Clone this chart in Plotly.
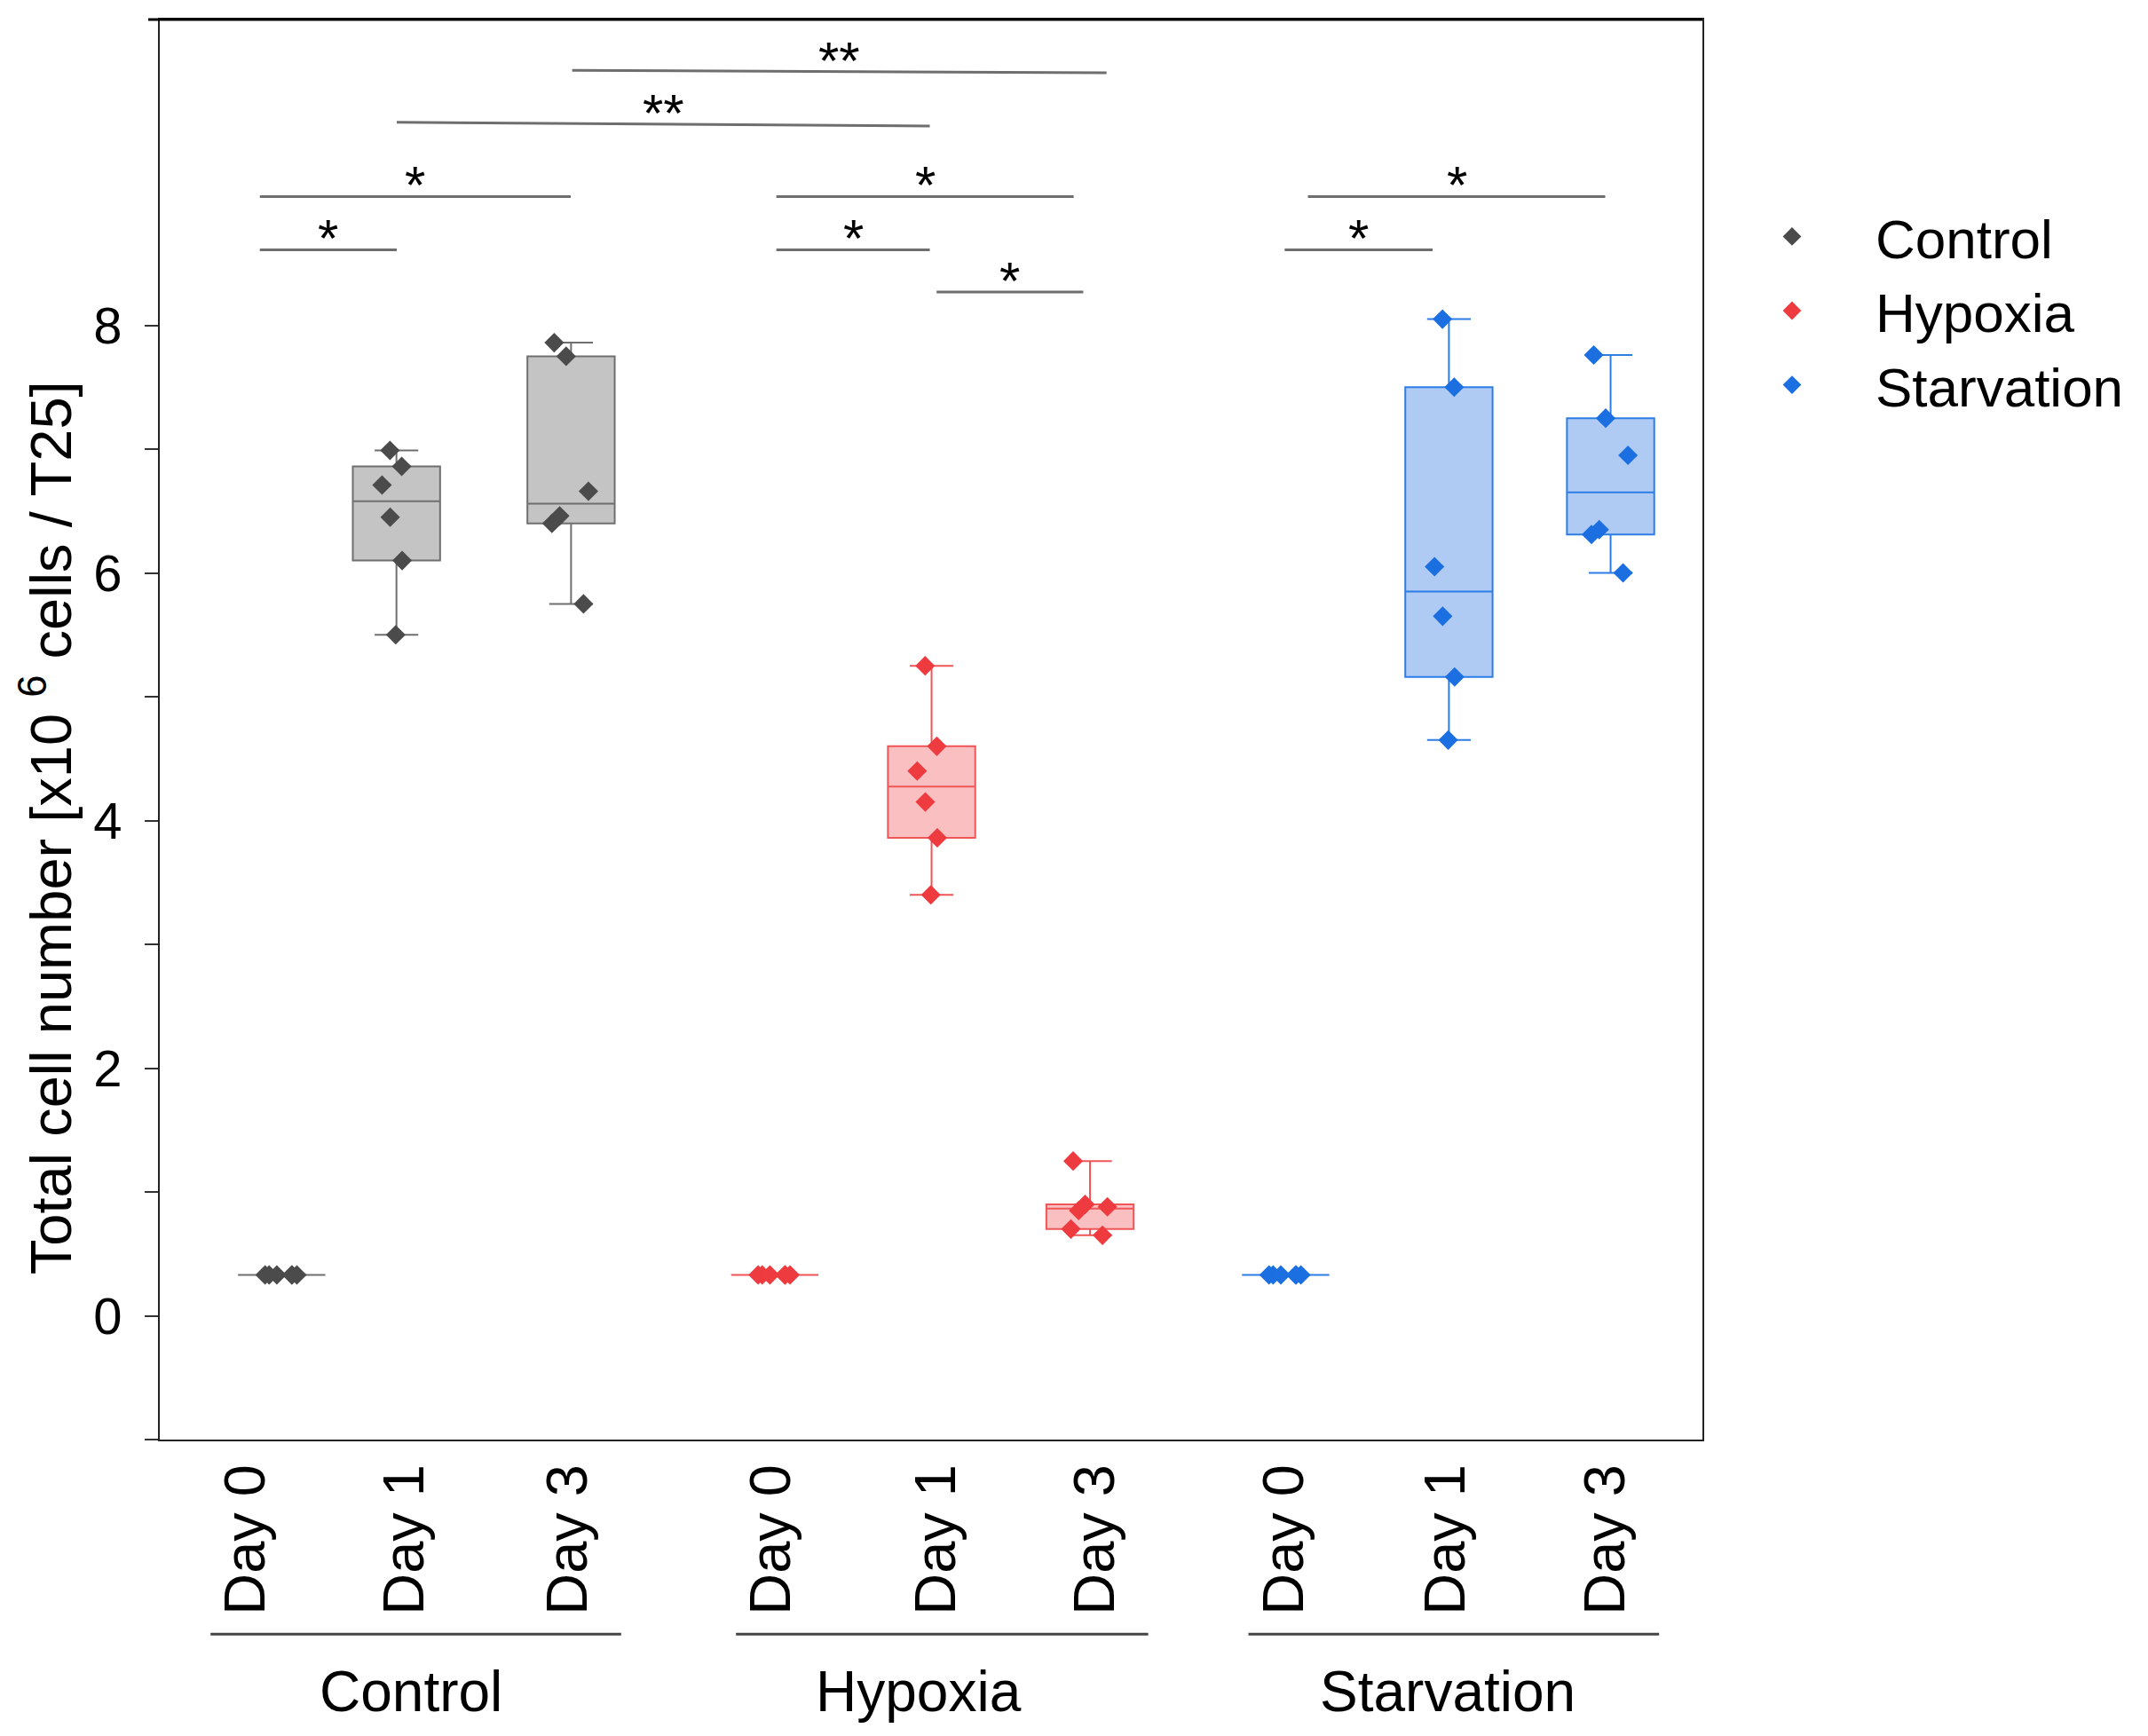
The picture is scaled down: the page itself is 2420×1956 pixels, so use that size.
import plotly.graph_objects as go

# categories
groups = ["Control", "Hypoxia", "Starvation"]
days = ["Day 0", "Day 1", "Day 3"]

# total cell number [x10^6 cells / T25], 6 replicates per box
control_d0 = [0.33, 0.33, 0.33, 0.33, 0.33, 0.33]
control_d1 = [5.50, 6.10, 6.45, 6.71, 6.86, 6.99]
control_d3 = [5.75, 6.40, 6.46, 6.66, 7.75, 7.86]

hypoxia_d0 = [0.33, 0.33, 0.33, 0.33, 0.33, 0.33]
hypoxia_d1 = [3.40, 3.86, 4.15, 4.40, 4.60, 5.25]
hypoxia_d3 = [0.65, 0.70, 0.85, 0.88, 0.90, 1.25]

starvation_d0 = [0.33, 0.33, 0.33, 0.33, 0.33, 0.33]
starvation_d1 = [4.65, 5.16, 5.65, 6.05, 7.50, 8.05]
starvation_d3 = [6.00, 6.31, 6.35, 6.95, 7.25, 7.76]

samples = {
    "Control": [control_d0, control_d1, control_d3],
    "Hypoxia": [hypoxia_d0, hypoxia_d1, hypoxia_d3],
    "Starvation": [starvation_d0, starvation_d1, starvation_d3],
}

# colours : points, box fill, box line
styles = {
    "Control": ("#4b4b4b", "#c4c4c4", "#6f6f6f"),
    "Hypoxia": ("#ee3b3f", "#f9bfc1", "#f05557"),
    "Starvation": ("#1b6fe0", "#afcbf3", "#2c7de6"),
}

# layout of the x axis (axis units)
slot_x = {"Control": [0.0, 0.98, 1.99], "Hypoxia": [3.25, 4.27, 5.25], "Starvation": [6.42, 7.42, 8.41]}
box_x = {"Control": [0.22, 0.93, 2.01], "Hypoxia": [3.27, 4.24, 5.22], "Starvation": [6.43, 7.44, 8.44]}
label_x = {"Control": 1.02, "Hypoxia": 4.16, "Starvation": 7.43}

FONT = "Arial, Liberation Sans, sans-serif"


def median(v):
    s = sorted(v)
    n = len(s)
    h = n // 2
    return s[h] if n % 2 else (s[h - 1] + s[h]) / 2


def stats(v):
    # quartiles from the halves, whiskers to min / max
    s = sorted(v)
    n = len(s)
    h = n // 2
    return median(s[:h]), median(s), median(s[h + n % 2:]), s[0], s[-1]


fig = go.Figure()

for g in groups:
    pt, fill, line = styles[g]
    st = [stats(v) for v in samples[g]]
    fig.add_trace(go.Box(
        x=box_x[g],
        y=samples[g],
        q1=[s[0] for s in st],
        median=[s[1] for s in st],
        q3=[s[2] for s in st],
        lowerfence=[s[3] for s in st],
        upperfence=[s[4] for s in st],
        width=0.54,
        whiskerwidth=0.5,
        fillcolor=fill,
        line=dict(color=line, width=2),
        boxpoints="all",
        jitter=0.45,
        pointpos=0,
        marker=dict(symbol="diamond", size=17, color=pt, line=dict(width=0)),
        showlegend=False,
        name=g,
    ))

# legend : diamonds only
for g in groups:
    fig.add_trace(go.Scatter(
        x=[None], y=[None], mode="markers", name=g,
        marker=dict(symbol="diamond", size=16, color=styles[g][0]),
    ))

# significance bars: x0, x1, y0, y1, label
brackets = [
    (0.085, 0.932, 8.61, 8.61, "*"),
    (0.085, 2.008, 9.04, 9.04, "*"),
    (0.932, 4.229, 9.64, 9.61, "**"),
    (2.017, 5.322, 10.06, 10.04, "**"),
    (3.28, 4.229, 8.61, 8.61, "*"),
    (3.28, 5.119, 9.04, 9.04, "*"),
    (4.271, 5.178, 8.27, 8.27, "*"),
    (6.424, 7.339, 8.61, 8.61, "*"),
    (6.568, 8.407, 9.04, 9.04, "*"),
]
for x0, x1, y0, y1, lab in brackets:
    fig.add_shape(type="line", xref="x", yref="y", x0=x0, x1=x1, y0=y0, y1=y1,
                  line=dict(color="#6e6e6e", width=3))
    fig.add_annotation(x=(x0 + x1) / 2, y=(y0 + y1) / 2, text=lab, showarrow=False,
                       xref="x", yref="y", yanchor="bottom", yshift=-23,
                       font=dict(family=FONT, size=60, color="black"))

# group lines and labels under the day ticks
for g in groups:
    xs = slot_x[g]
    fig.add_shape(type="line", xref="x", yref="paper", x0=xs[0] - 0.22, x1=xs[-1] + 0.33,
                  y0=-0.137, y1=-0.137, line=dict(color="#444444", width=3))
    fig.add_annotation(x=label_x[g], y=-0.1775, xref="x", yref="paper", text=g,
                       showarrow=False, yanchor="middle",
                       font=dict(family=FONT, size=64, color="black"))

# heavier top frame line
fig.add_shape(type="line", xref="paper", yref="paper", x0=-0.0075, x1=1, y0=1, y1=1,
              line=dict(color="black", width=3))

# y title
fig.add_annotation(text="Total cell number [x10 <sup>6</sup> cells / T25]", textangle=-90,
                   xref="paper", yref="paper", x=-0.0735, y=0.4307, showarrow=False,
                   xanchor="center", yanchor="middle",
                   font=dict(family=FONT, size=65, color="black"))

tickvals = [x for g in groups for x in slot_x[g]]
ticktext = days * 3

fig.update_xaxes(
    range=[-0.534, 9.008], tickvals=tickvals, ticktext=ticktext, tickangle=-90,
    ticks="", ticklabelstandoff=0, showline=True, linecolor="#222222", linewidth=2,
    mirror=True, showgrid=False, zeroline=False,
    tickfont=dict(family=FONT, size=65, color="black"),
)
fig.update_yaxes(
    range=[-1, 10.47], tickvals=list(range(-1, 9)),
    ticktext=["" if (v < 0 or v % 2) else str(v) for v in range(-1, 9)],
    ticks="outside", ticklen=15, tickwidth=2, tickcolor="#333333", ticklabelstandoff=14,
    showline=True, linecolor="#222222", linewidth=2, mirror=True,
    showgrid=False, zeroline=False,
    tickfont=dict(family=FONT, size=58, color="black"),
)

fig.update_layout(
    width=2404, height=1938,
    margin=dict(l=172, r=494, t=14, b=324),
    paper_bgcolor="white", plot_bgcolor="white",
    boxmode="overlay",
    legend=dict(x=1.004, y=0.8765, xanchor="left", yanchor="top", itemwidth=178,
                font=dict(family=FONT, size=62, color="black"), tracegroupgap=0,
                bgcolor="rgba(0,0,0,0)"),
)

fig.write_html("out.html")
